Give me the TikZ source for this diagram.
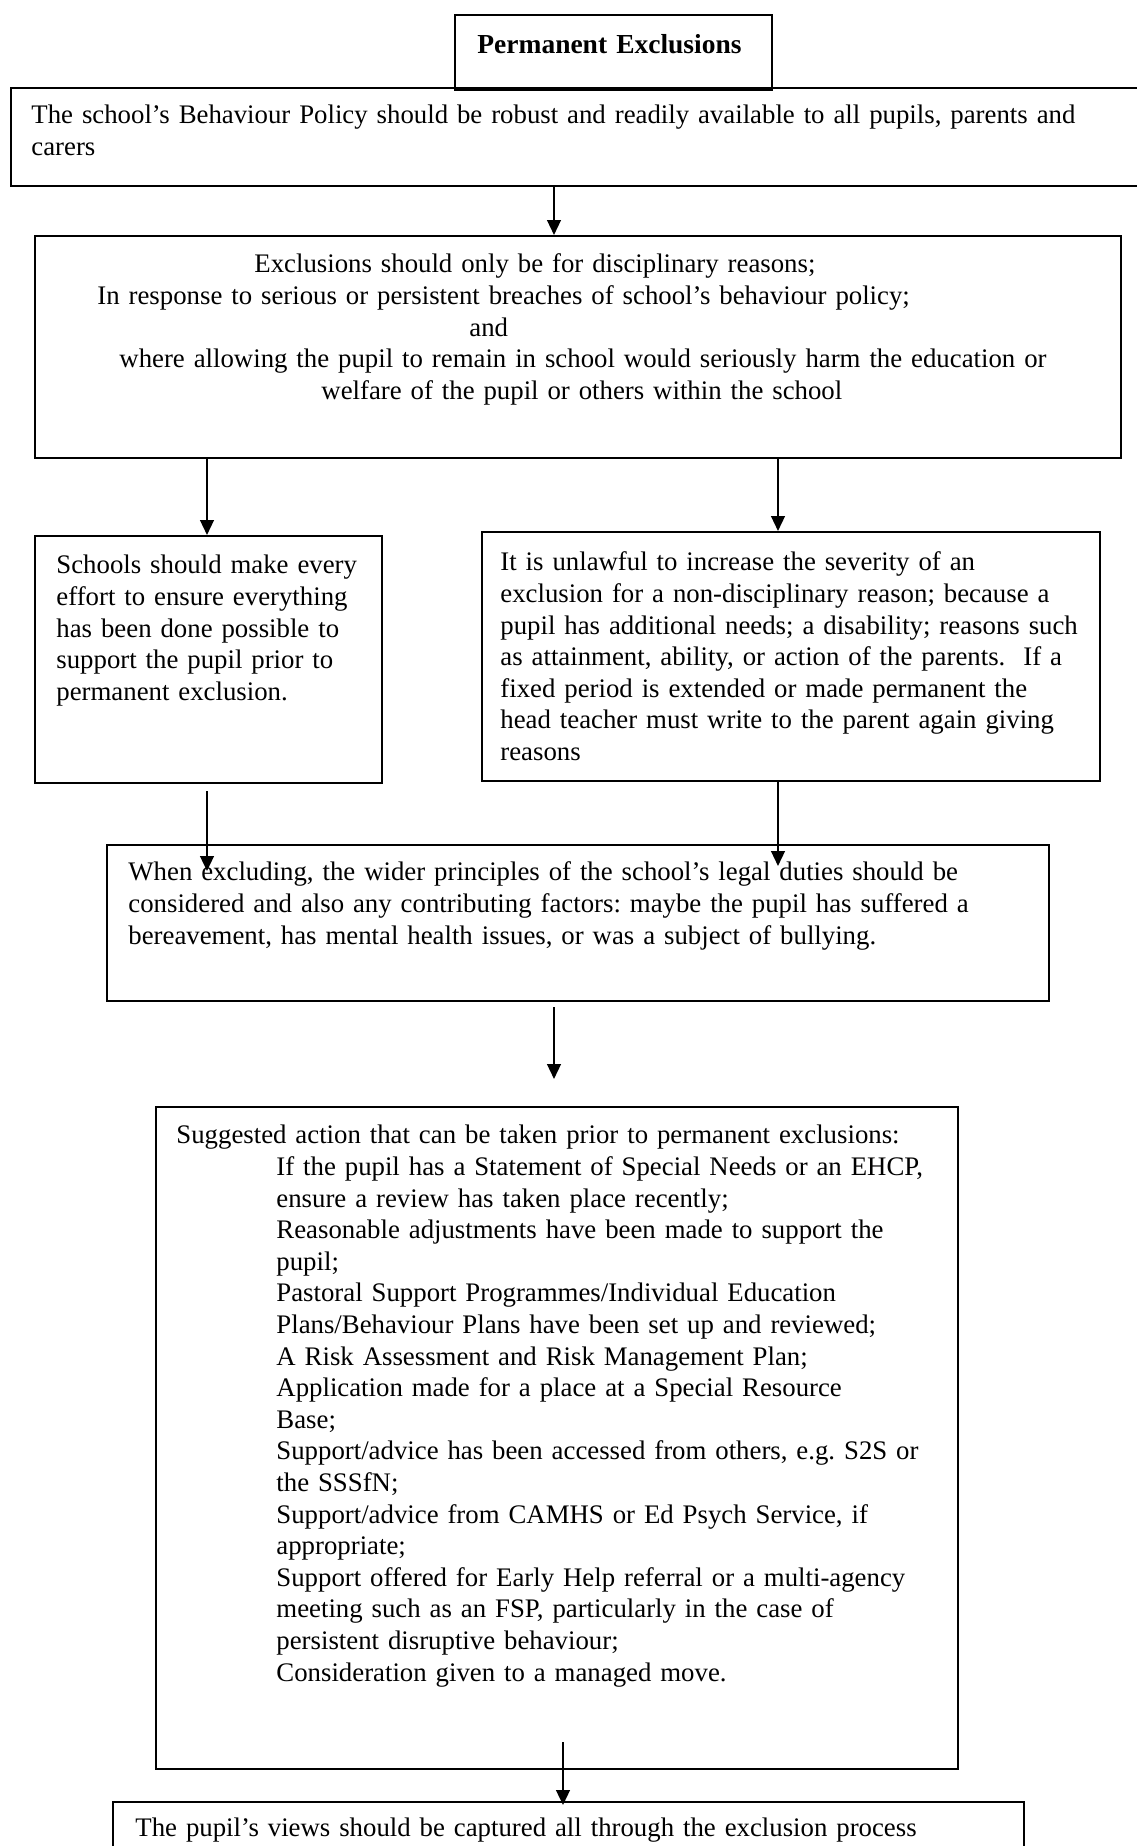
\documentclass[tikz,border=0pt]{standalone}
\usepackage{fontspec}
\setmainfont{Liberation Serif}
\usetikzlibrary{arrows.meta,calc,fit}

\newdimen\px \px=0.4367pt
\newcommand{\tabin}{\hspace*{100\px}}

\begin{document}
\begin{tikzpicture}[x=0.4367pt,y=-0.4367pt,
   box/.style={draw, line width=0.9pt, inner sep=0pt},
   txt/.style={inner sep=0pt, anchor=base west, align=left, text width=480pt,
               font=\fontsize{11.7pt}{13.8pt}\selectfont\frenchspacing},
   arr/.style={line width=0.8pt, -{Triangle[length=6.5pt,width=6pt]}}]
   \useasboundingbox (0,0) rectangle (1136,1846);

   % boxes
   \node[box, fit={(455,15) (772,90)}] (title) {};
   \node[box, fit={(11,88) (1145,186)}] (policy) {};
   \node[box, fit={(35,236) (1121,458)}] (excl) {};
   \node[box, fit={(35,536) (382,783)}] (effort) {};
   \node[box, fit={(482,532) (1100,781)}] (unlawful) {};
   \node[box, fit={(107,845) (1049,1001)}] (duties) {};
   \node[box, fit={(156,1107) (958,1769)}] (actions) {};
   \node[box, fit={(113,1802) (1024,1870)}] (views) {};

   % texts
   \node[txt, font=\fontsize{12pt}{13.8pt}\selectfont\bfseries] (titletxt)
      at ($(title.north west)+(23,40)$) {Permanent Exclusions};
   \node[txt] (policytxt) at ($(policy.north west)+(21,37)$)
      {The school's Behaviour Policy should be robust and readily available to all pupils, parents and\\
       carers};
   \node[txt] (excltxt) at ($(excl.north west)+(63,38)$)
      {\hspace*{157\px}Exclusions should only be for disciplinary reasons;\\
       In response to serious or persistent breaches of school's behaviour policy;\\
       \hspace*{372\px}and\\
       \hspace*{22\px}where allowing the pupil to remain in school would seriously harm the education or\\
       \hspace*{224\px}welfare of the pupil or others within the school};
   \node[txt] (efforttxt) at ($(effort.north west)+(22,39)$)
      {Schools should make every\\
       effort to ensure everything\\
       has been done possible to\\
       support the pupil prior to\\
       permanent exclusion.};
   \node[txt] (unlawfultxt) at ($(unlawful.north west)+(19,40)$)
      {It is unlawful to increase the severity of an\\
       exclusion for a non-disciplinary reason; because a\\
       pupil has additional needs; a disability; reasons such\\
       as attainment, ability, or action of the parents.\hspace{18\px}If a\\
       fixed period is extended or made permanent the\\
       head teacher must write to the parent again giving\\
       reasons};
   \node[txt] (dutiestxt) at ($(duties.north west)+(22,37)$)
      {When excluding, the wider principles of the school's legal duties should be\\
       considered and also any contributing factors: maybe the pupil has suffered a\\
       bereavement, has mental health issues, or was a subject of bullying.};
   \node[txt] (actionstxt) at ($(actions.north west)+(21,38)$)
      {Suggested action that can be taken prior to permanent exclusions:\\
       \tabin If the pupil has a Statement of Special Needs or an EHCP,\\
       \tabin ensure a review has taken place recently;\\
       \tabin Reasonable adjustments have been made to support the\\
       \tabin pupil;\\
       \tabin Pastoral Support Programmes/Individual Education\\
       \tabin Plans/Behaviour Plans have been set up and reviewed;\\
       \tabin A Risk Assessment and Risk Management Plan;\\
       \tabin Application made for a place at a Special Resource\\
       \tabin Base;\\
       \tabin Support/advice has been accessed from others, e.g. S2S or\\
       \tabin the SSSfN;\\
       \tabin Support/advice from CAMHS or Ed Psych Service, if\\
       \tabin appropriate;\\
       \tabin Support offered for Early Help referral or a multi-agency\\
       \tabin meeting such as an FSP, particularly in the case of\\
       \tabin persistent disruptive behaviour;\\
       \tabin Consideration given to a managed move.};
   \node[txt] (viewstxt) at ($(views.north west)+(23,36)$)
      {The pupil's views should be captured all through the exclusion process};

   % arrows
   \coordinate (colL) at (207,0);
   \coordinate (colR) at (778,0);
   \coordinate (colM) at (554,0);
   \coordinate (colN) at (563,0);

   \draw[arr] (policy.south -| colM) -- (excl.north -| colM);
   \draw[arr] (excl.south -| colL) -- (effort.north -| colL);
   \draw[arr] (excl.south -| colR) -- (unlawful.north -| colR);
   \draw[arr] ($(effort.south -| colL)+(0,7)$) -- ($(duties.north -| colL)+(0,27)$);
   \draw[arr] (unlawful.south -| colR) -- ($(duties.north -| colR)+(0,22)$);
   \draw[arr] ($(duties.south -| colM)+(0,5)$) -- ($(actions.north -| colM)+(0,-27)$);
   \draw[arr] ($(actions.south -| colN)+(0,-28)$) -- ($(views.north -| colN)+(0,4)$);

\end{tikzpicture}
\end{document}
